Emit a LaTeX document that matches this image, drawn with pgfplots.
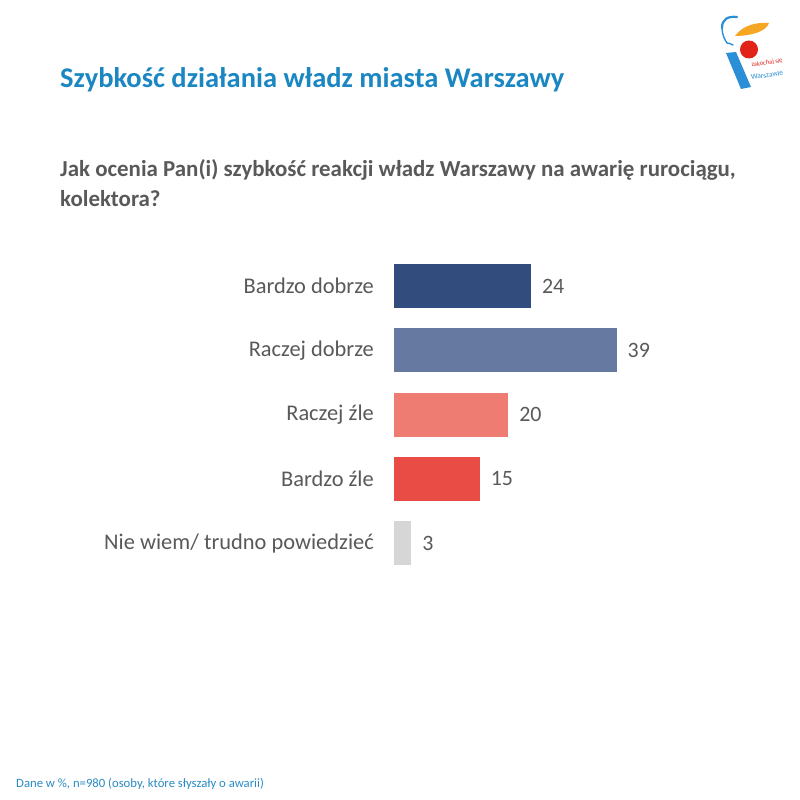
\documentclass[border=0pt]{standalone}
\usepackage{pgfplots}
\pgfplotsset{compat=1.18}
\usepackage{fontspec}
\setmainfont{Carlito}
\definecolor{cNavy}{HTML}{324C7E}
\definecolor{cSteel}{HTML}{667AA1}
\definecolor{cSalmon}{HTML}{EF7C72}
\definecolor{cRed}{HTML}{E84C45}
\definecolor{cGray}{HTML}{D6D6D6}
\definecolor{cText}{HTML}{595959}
\definecolor{cTitle}{HTML}{1B87C2}
\definecolor{cFoot}{HTML}{2A8BC4}
\definecolor{cLogoBlue}{HTML}{2A8FD6}
\definecolor{cLogoYel}{HTML}{F5A623}
\definecolor{cLogoRed}{HTML}{E2231A}
\begin{document}
\begin{tikzpicture}[x=1bp,y=1bp]
\fill[white] (0,0) rectangle (800,800);
% title
\node[anchor=base west, inner sep=0pt, text=cTitle, font=\fontsize{28.6}{32}\selectfont\bfseries] at (60,712) {Szybkość działania władz miasta Warszawy};
\node[anchor=base west, inner sep=0pt, text=cText, font=\fontsize{23}{26}\selectfont\bfseries] at (60,623) {Jak ocenia Pan(i) szybkość reakcji władz Warszawy na awarię rurociągu,};
\node[anchor=base west, inner sep=0pt, text=cText, font=\fontsize{23}{26}\selectfont\bfseries] at (60,593) {kolektora?};
\node[anchor=base west, inner sep=0pt, text=cFoot, font=\fontsize{12.75}{14}\selectfont] at (16,12) {Dane w \%, n=980 (osoby, które słyszały o awarii)};
% logo (simplified)
\draw[cLogoBlue, line width=2.2bp, line cap=round] (737,783) .. controls (728,784) and (722,781) .. (722,772);
\draw[cLogoBlue, line width=1.4bp, line cap=round] (722,772) .. controls (722,765) and (725,760) .. (727,757) .. controls (729,755) and (731,758) .. (733,755);
\fill[cLogoYel] (735,764) .. controls (742,774) and (755,778) .. (769,777) .. controls (766,768) and (750,764) .. (735,764) -- cycle;
\fill[cLogoRed] (749,750.5) circle (9);
\fill[cLogoBlue] (726,747) -- (736,748) -- (751,713) -- (741,711) -- cycle;
\node[text=cLogoRed, font=\fontsize{6.5}{7}\selectfont, rotate=8, inner sep=0pt] at (767,737) {zakochaj się};
\node[text=cLogoBlue, font=\fontsize{6}{7}\selectfont, inner sep=0pt] at (738,725) {w};
\node[text=cLogoBlue, font=\fontsize{7.5}{8}\selectfont, rotate=8, inner sep=0pt] at (767,725) {Warszawie};
\begin{axis}[
  at={(394bp,224.8bp)}, anchor=south west,
  scale only axis, width=285.25bp, height=321bp,
  xmin=0, xmax=50, ymin=-0.5, ymax=4.5, y dir=reverse,
  xbar, bar width=44bp, bar shift=0pt,
  axis line style={draw=none}, xtick=\empty,
  ytick={0,1,2,3,4},
  yticklabels={Bardzo dobrze,Raczej dobrze,Raczej źle,Bardzo źle,Nie wiem/ trudno powiedzieć},
  major tick length=0pt,
  yticklabel style={font=\fontsize{22.5}{26}\selectfont, text=cText, inner sep=0pt, xshift=-20bp},
  /pgf/number format/assume math mode=true,
  nodes near coords,
  nodes near coords style={font=\fontsize{22}{26}\selectfont, text=cText, anchor=west, inner sep=0pt, xshift=11bp},
  every axis plot/.append style={draw=none},
  clip=false,
]
\addplot[fill=cNavy] coordinates {(24,0)};
\addplot[fill=cSteel] coordinates {(39,1)};
\addplot[fill=cSalmon] coordinates {(20,2)};
\addplot[fill=cRed] coordinates {(15,3)};
\addplot[fill=cGray] coordinates {(3,4)};
\end{axis}
\end{tikzpicture}
\end{document}
